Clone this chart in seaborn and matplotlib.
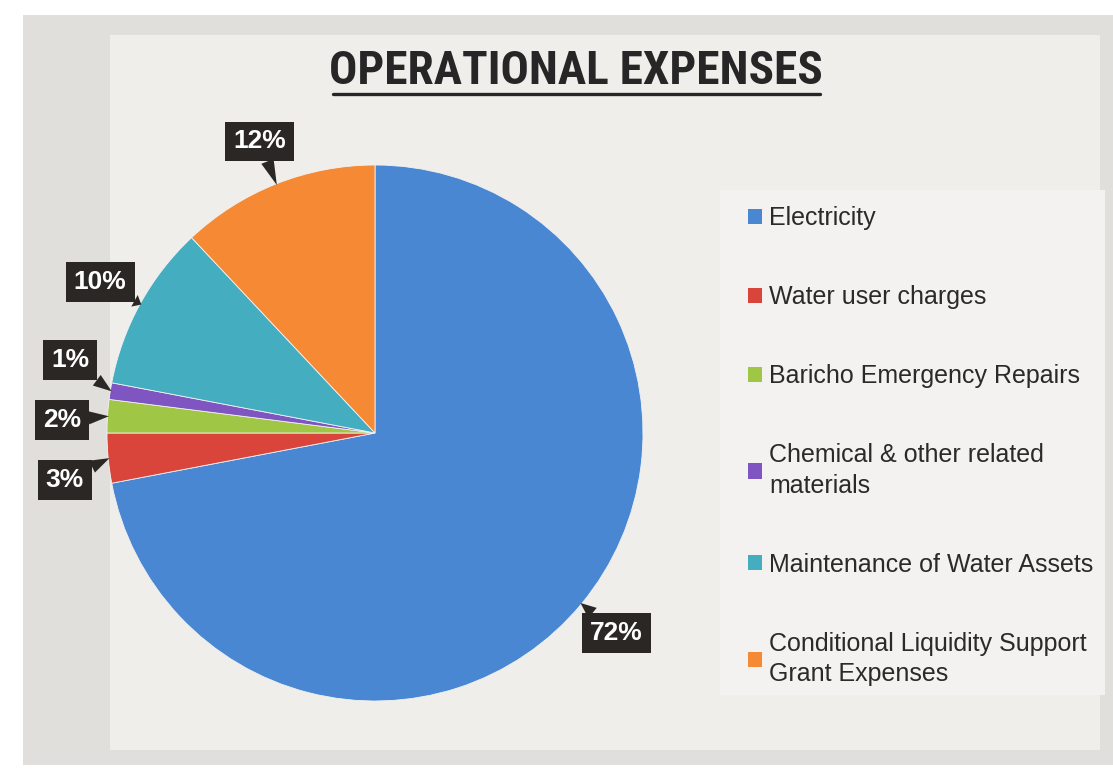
import numpy as np
import matplotlib
matplotlib.use("Agg")
import matplotlib.pyplot as plt
import seaborn as sns
from matplotlib.patches import Rectangle

# dati
categories = ["Electricity", "Water user charges", "Baricho Emergency Repairs",
              "Chemical & other related\nmaterials", "Maintenance of Water Assets",
              "Conditional Liquidity Support\nGrant Expenses"]
shares = [72, 3, 2, 1, 10, 12]
pct_labels = ["72%", "3%", "2%", "1%", "10%", "12%"]
colors = ["#4a87d3", "#d9443b", "#9fc645", "#7f55c2", "#45adc0", "#f68a34"]

sns.set_theme(style="white")
plt.rcParams['font.family'] = ['Liberation Sans', 'DejaVu Sans']

fig = plt.figure(figsize=(11.13, 7.76), dpi=100)
fig.patch.set_facecolor("white")
W, H = 1113, 776

# sfondo della slide (foto)
fig.patches.append(Rectangle((23 / W, 1 - 765 / H), 1 - 23 / W, (765 - 15) / H,
                             transform=fig.transFigure, fc="#e1dfdb", ec="none", zorder=-3))
fig.patches.append(Rectangle((110 / W, 1 - 750 / H), (1100 - 110) / W, (750 - 35) / H,
                             transform=fig.transFigure, fc="#efeeeb", ec="none", zorder=-2))
fig.patches.append(Rectangle((720 / W, 1 - 695 / H), (1105 - 720) / W, (695 - 190) / H,
                             transform=fig.transFigure, fc="#f3f2f0", ec="none", zorder=-1))

# asse per la torta
R = 268
cx, cy = 375, 433
side = 2.5 * R
ax = fig.add_axes([(cx - side / 2) / W, (H - cy - side / 2) / H, side / W, side / H])
ax.set_facecolor("none")
ax.set_zorder(2)

wedges, _ = ax.pie(shares, colors=colors, startangle=90, counterclock=False,
                   wedgeprops=dict(linewidth=0.6, edgecolor="#f2f2f2"))
ax.set_xlim(-1.25, 1.25)
ax.set_ylim(-1.25, 1.25)
ax.set_aspect("equal")

# angoli dei label: le fette piccole vengono distribuite attorno alla loro media
mids = [(w.theta1 + w.theta2) / 2 for w in wedges]
lab_ang = list(mids)
small = [i for i, s in enumerate(shares) if s < 5]
gap = 11
center = np.mean([mids[i] for i in small])
for k, i in enumerate(small):
    lab_ang[i] = center + gap * ((len(small) - 1) / 2 - k)

for i, w in enumerate(wedges):
    m = np.deg2rad(mids[i])
    a = np.deg2rad(lab_ang[i])
    tip = (0.995 * np.cos(m), 0.995 * np.sin(m))
    pos = (1.17 * np.cos(a), 1.17 * np.sin(a))
    ax.annotate(pct_labels[i], xy=tip, xytext=pos, ha="center", va="center",
                fontsize=19, fontweight="bold", color="white",
                bbox=dict(boxstyle="square,pad=0.3", fc="#2b2724", ec="none"),
                arrowprops=dict(arrowstyle="wedge,tail_width=0.5,shrink_factor=0.5",
                                fc="#2b2724", ec="none", shrinkA=0, shrinkB=0),
                zorder=5, annotation_clip=False)

# titolo sottolineato
title = fig.text(576 / W, 1 - 84 / H, "OPERATIONAL EXPENSES", ha="center", va="baseline",
                 fontsize=34, color="#262626", fontweight="bold",
                 family=["Roboto Condensed", "DejaVu Sans"], fontstretch="condensed")
fig.lines.append(plt.Line2D([333 / W, 820 / W], [1 - 94 / H, 1 - 94 / H],
                            transform=fig.transFigure, color="#262626", lw=2.4))

# legenda
handles = [Rectangle((0, 0), 1, 1, fc=c, ec="none") for c in colors]
leg = fig.legend(handles, categories, loc="upper left",
                 bbox_to_anchor=(738 / W, 1 - 196 / H), frameon=False,
                 fontsize=18, handlelength=0.55, handleheight=0.55,
                 handletextpad=0.3, labelspacing=2.2, borderaxespad=0)
for t in leg.get_texts():
    t.set_color("#2a2a2a")
    t.set_linespacing(1.35)

fig.savefig("out.png", dpi=100, facecolor=fig.get_facecolor())
